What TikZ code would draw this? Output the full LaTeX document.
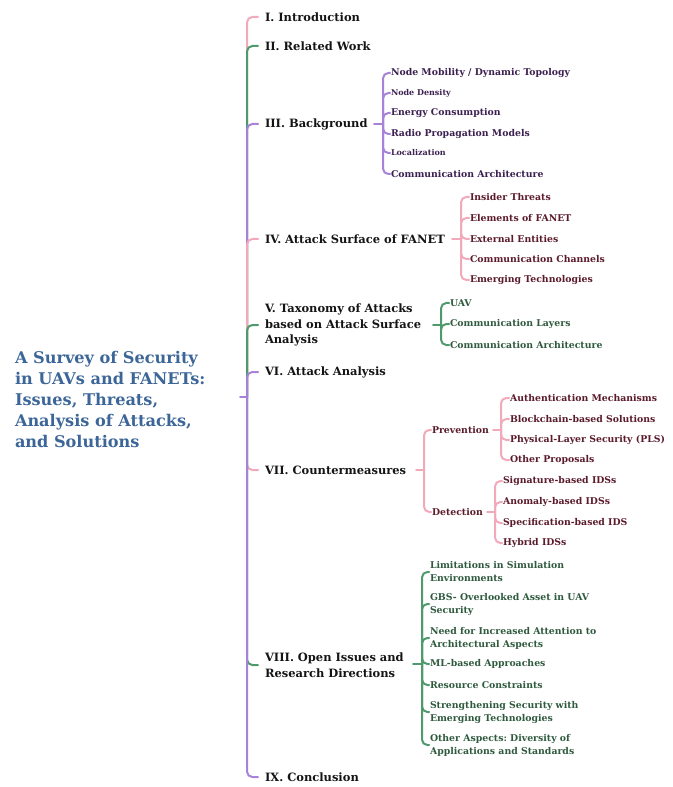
\documentclass[tikz,border=0pt]{standalone}
\usepackage{fontspec}
\setmainfont{DejaVu Serif}
\usetikzlibrary{calc}
\frenchspacing
\definecolor{pk}{HTML}{F2A9BA}
\definecolor{gn}{HTML}{4E9A6C}
\definecolor{pu}{HTML}{A682D8}
\definecolor{rootc}{HTML}{3C6698}
\definecolor{puT}{HTML}{3B2050}
\definecolor{mrT}{HTML}{5B1B2C}
\definecolor{gnT}{HTML}{2F5A3E}
\definecolor{secT}{HTML}{141414}
\begin{document}
\begin{tikzpicture}[x=0.75pt,y=-0.75pt,
  every node/.style={inner sep=0pt, outer sep=0pt, anchor=west},
  rootnode/.style={text=rootc, font=\bfseries\fontsize{12.1}{15.75}\selectfont, align=left},
  sec/.style={text=secT, font=\bfseries\fontsize{8.6}{11.6}\selectfont, align=left},
  subn/.style={font=\bfseries\fontsize{7.0}{9.75}\selectfont, align=left},
  subs/.style={font=\bfseries\fontsize{6}{8}\selectfont, align=left},
  link/.style={line width=1.5pt, rounded corners=4pt, line cap=round}
]
\useasboundingbox (0,0) rectangle (672,787);

% root
\node[rootnode] (root) at (15,399) {A Survey of Security\\in UAVs and FANETs:\\Issues, Threats,\\Analysis of Attacks,\\and Solutions};
\coordinate (rs) at (240,397);
\coordinate (o) at (247,397);

% sections
\node[sec] (s1) at (265,17) {I. Introduction};
\node[sec] (s2) at (265,46) {II. Related Work};
\node[sec] (s3) at (265,124) {III. Background};
\node[sec] (s4) at (265,239) {IV. Attack Surface of FANET};
\node[sec] (s5) at (265,325) {V. Taxonomy of Attacks\\based on Attack Surface\\Analysis};
\node[sec] (s6) at (265,372) {VI. Attack Analysis};
\node[sec] (s7) at (265,470) {VII. Countermeasures};
\node[sec] (s8) at (265,665) {VIII. Open Issues and\\Research Directions};
\node[sec] (s9) at (265,777) {IX. Conclusion};

\draw[link,pu] (rs) -- (o);
\draw[link,pk] (o) |- ($(s1.west)+(-7,0)$);
\draw[link,gn] (o) |- ($(s2.west)+(-7,0)$);
\draw[link,pu] (o) |- ($(s3.west)+(-7,0)$);
\draw[link,pk] (o) |- ($(s4.west)+(-7,0)$);
\draw[link,gn] (o) |- ($(s5.west)+(-7,0)$);
\draw[link,pu] (o) |- ($(s6.west)+(-7,0)$);
\draw[link,pk] (o) |- ($(s7.west)+(-7,0)$);
\draw[link,gn] (o) |- ($(s8.west)+(-7,0)$);
\draw[link,pu] (o) |- ($(s9.west)+(-7,0)$);

% III Background
\node[subn,text=puT] (b1) at (391,73) {Node Mobility / Dynamic Topology};
\node[subs,text=puT] (b2) at (391,93) {Node Density};
\node[subn,text=puT] (b3) at (391,113) {Energy Consumption};
\node[subn,text=puT] (b4) at (391,134) {Radio Propagation Models};
\node[subs,text=puT] (b5) at (391,153) {Localization};
\node[subn,text=puT] (b6) at (391,174) {Communication Architecture};
\coordinate (bB) at (383,124);
\draw[link,pu] (374,124) -- (bB);
\foreach \c in {b1,b2,b3,b4,b5,b6}
  \draw[link,pu] (bB) |- ($(\c.west)+(-1,0)$);

% IV Attack surface
\node[subn,text=mrT] (a1) at (470,197) {Insider Threats};
\node[subn,text=mrT] (a2) at (470,218) {Elements of FANET};
\node[subn,text=mrT] (a3) at (470,239) {External Entities};
\node[subn,text=mrT] (a4) at (470,259) {Communication Channels};
\node[subn,text=mrT] (a5) at (470,280) {Emerging Technologies};
\coordinate (aB) at (461,239);
\draw[link,pk] (452,239) -- (aB);
\foreach \c in {a1,a2,a3,a4,a5}
  \draw[link,pk] (aB) |- ($(\c.west)+(-1,0)$);

% V Taxonomy
\node[subn,text=gnT] (t1) at (450,303) {UAV};
\node[subn,text=gnT] (t2) at (450,324) {Communication Layers};
\node[subn,text=gnT] (t3) at (450,345) {Communication Architecture};
\coordinate (tB) at (441,325);
\draw[link,gn] (433,325) -- (tB);
\foreach \c in {t1,t2,t3}
  \draw[link,gn] (tB) |- ($(\c.west)+(-1,0)$);

% VII Countermeasures
\node[subn,text=mrT] (pv) at (432,430) {Prevention};
\node[subn,text=mrT] (dt) at (432,512) {Detection};
\coordinate (cB) at (424,470);
\draw[link,pk] (416,470) -- (cB);
\foreach \c in {pv,dt}
  \draw[link,pk] (cB) |- ($(\c.west)+(-1,0)$);

\node[subn,text=mrT] (p1) at (510,398) {Authentication Mechanisms};
\node[subn,text=mrT] (p2) at (510,419) {Blockchain-based Solutions};
\node[subn,text=mrT] (p3) at (510,440) {Physical-Layer Security (PLS)};
\node[subn,text=mrT] (p4) at (510,460) {Other Proposals};
\coordinate (pB) at (501,430);
\draw[link,pk] (493,430) -- (pB);
\foreach \c in {p1,p2,p3,p4}
  \draw[link,pk] (pB) |- ($(\c.west)+(-1,0)$);

\node[subn,text=mrT] (d1) at (503,481) {Signature-based IDSs};
\node[subn,text=mrT] (d2) at (503,502) {Anomaly-based IDSs};
\node[subn,text=mrT] (d3) at (503,523) {Specification-based IDS};
\node[subn,text=mrT] (d4) at (503,543) {Hybrid IDSs};
\coordinate (dB) at (495,512);
\draw[link,pk] (487,512) -- (dB);
\foreach \c in {d1,d2,d3,d4}
  \draw[link,pk] (dB) |- ($(\c.west)+(-1,0)$);

% VIII Open issues
\node[subn,text=gnT] (o1) at (430,572) {Limitations in Simulation\\Environments};
\node[subn,text=gnT] (o2) at (430,604) {GBS- Overlooked Asset in UAV\\Security};
\node[subn,text=gnT] (o3) at (430,638) {Need for Increased Attention to\\Architectural Aspects};
\node[subn,text=gnT] (o4) at (430,664) {ML-based Approaches};
\node[subn,text=gnT] (o5) at (430,685) {Resource Constraints};
\node[subn,text=gnT] (o6) at (430,712) {Strengthening Security with\\Emerging Technologies};
\node[subn,text=gnT] (o7) at (430,745) {Other Aspects: Diversity of\\Applications and Standards};
\coordinate (oB) at (422,664);
\draw[link,gn] (413,664) -- (oB);
\foreach \c in {o1,o2,o3,o4,o5,o6,o7}
  \draw[link,gn] (oB) |- ($(\c.west)+(-1,0)$);
\end{tikzpicture}
\end{document}
